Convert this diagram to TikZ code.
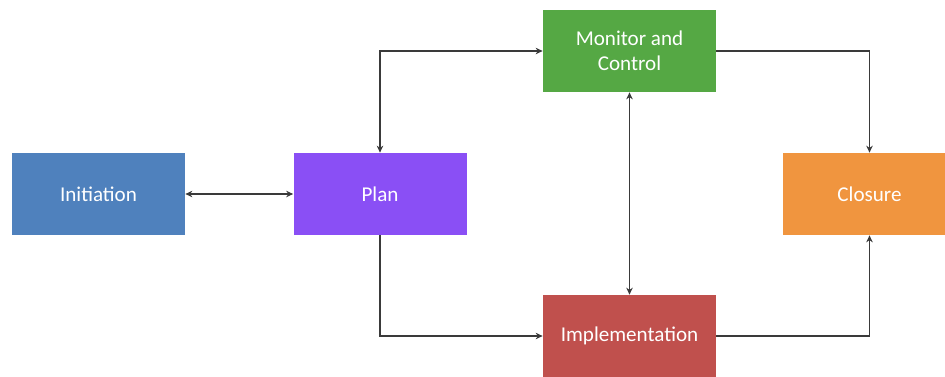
\documentclass[tikz,border=0pt]{standalone}
\usepackage{fontspec}
\setmainfont{Carlito}
\usepackage{tikz}
\usetikzlibrary{arrows.meta}

\definecolor{initblue}{HTML}{4F81BD}
\definecolor{planpurple}{HTML}{8A4FF5}
\definecolor{mongreen}{HTML}{55A844}
\definecolor{closorange}{HTML}{F0953F}
\definecolor{implred}{HTML}{C0504D}
\definecolor{linkgray}{HTML}{3A3A3A}

\tikzset{
    phase/.style={minimum width=3.46cm, minimum height=1.64cm, text=white,
        font=\fontsize{12}{14}\selectfont, align=center, inner sep=0pt},
    link/.style={draw=linkgray, line width=0.7pt,
        arrows={-Stealth[length=1.4mm,width=1.3mm]}},
    twoway/.style={draw=linkgray, line width=0.7pt,
        arrows={Stealth[length=1.4mm,width=1.3mm]-Stealth[length=1.4mm,width=1.3mm]}}
}

\begin{document}
\begin{tikzpicture}
                \useasboundingbox (0,0) rectangle (18.9,7.52);

                \node[phase, fill=initblue] (init) at (1.97,3.64) {Initiation};
                \node[phase, fill=planpurple] (plan) at (7.6,3.64) {Plan};
                \node[phase, fill=mongreen] (mon) at (12.59,6.5) {Monitor and\\Control};
                \node[phase, fill=closorange] (clos) at (17.39,3.64) {Closure};
                \node[phase, fill=implred] (impl) at (12.59,0.8) {Implementation};

                \draw[twoway] (init) -- (plan);
                \draw[twoway] (plan.north) |- (mon.west);
                \draw[link] (plan.south) |- (impl.west);
                \draw[twoway] (mon.south) -- (impl.north);
                \draw[link] (mon.east) -| (clos.north);
                \draw[link] (impl.east) -| (clos.south);
            \end{tikzpicture}
\end{document}
